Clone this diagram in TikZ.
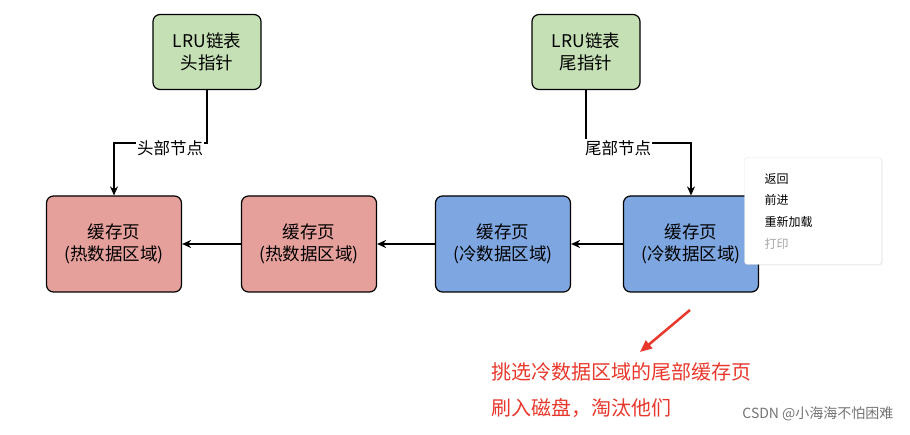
\documentclass[tikz,border=0pt]{standalone}
\usepackage{fontspec}
\setmainfont{Noto Sans CJK SC}
\usetikzlibrary{arrows.meta,shadows}
\definecolor{gr}{HTML}{C5E0B4}
\definecolor{rd}{HTML}{E6A09B}
\definecolor{bl}{HTML}{7EA6E0}
\definecolor{warn}{HTML}{E8382C}
\begin{document}
\begin{tikzpicture}[x=1pt,y=-1pt,
 box/.style={draw=black,line width=1.2pt,rounded corners=7pt,minimum width=135pt,minimum height=96pt,align=center,font=\fontsize{17.5}{22}\selectfont},
 ptr/.style={draw=black,line width=1.2pt,rounded corners=7pt,minimum width=108pt,minimum height=75pt,align=center,fill=gr,font=\fontsize{17.5}{22}\selectfont},
 arr/.style={-{Stealth[length=9pt,width=8pt]},line width=1.2pt},
 lbl/.style={fill=white,font=\fontsize{16.5}{20}\selectfont,inner sep=1pt},
 mi/.style={anchor=west,font=\fontsize{12}{14}\selectfont}]
\useasboundingbox (0,0) rectangle (910,435);
\node[ptr] (h) at (207,52) {LRU链表\\头指针};
\node[ptr] (t) at (586,52) {LRU链表\\尾指针};
\node[box,fill=rd] (b1) at (114,244) {缓存页\\(热数据区域)};
\node[box,fill=rd] (b2) at (309,244) {缓存页\\(热数据区域)};
\node[box,fill=bl] (b3) at (503,244) {缓存页\\(冷数据区域)};
\node[box,fill=bl] (b4) at (691,244) {缓存页\\(冷数据区域)};
\draw[arr] (h.south) |- (170,143) -| (b1.north);
\node[lbl] (hl) at (170,148) {头部节点};
\draw[arr] (t.south) |- (640,143) -| (b4.north);
\node[lbl] (tl) at (618,148) {尾部节点};
\draw[arr] (b2) -- (b1);
\draw[arr] (b3) -- (b2);
\draw[arr] (b4) -- (b3);
\node[draw=black!10,fill=white,rounded corners=3pt,drop shadow={opacity=0.15,shadow xshift=1pt,shadow yshift=-1pt},minimum width=137pt,minimum height=107pt] (menu) at (813,211) {};
\node[mi] (m1) at (761,179) {返回};
\node[mi] (m2) at (761,200) {前进};
\node[mi] (m3) at (761,222) {重新加载};
\node[mi,text=black!35] (m4) at (761,244) {打印};
\coordinate (ra) at (690,310);
\coordinate (rb) at (640,352);
\draw[-{Triangle[length=12pt,width=10pt]},line width=2.5pt,warn] (ra) -- (rb);
\node[anchor=west,text=warn,font=\fontsize{20}{24}\selectfont] (r1) at (488,372) {挑选冷数据区域的尾部缓存页};
\node[anchor=west,text=warn,font=\fontsize{20}{24}\selectfont] (r2) at (488,408) {刷入磁盘，淘汰他们};
\node[anchor=east,text=black!55,font=\fontsize{14}{16}\selectfont] (wm) at (897,414) {CSDN @小海海不怕困难};
\end{tikzpicture}
\end{document}
